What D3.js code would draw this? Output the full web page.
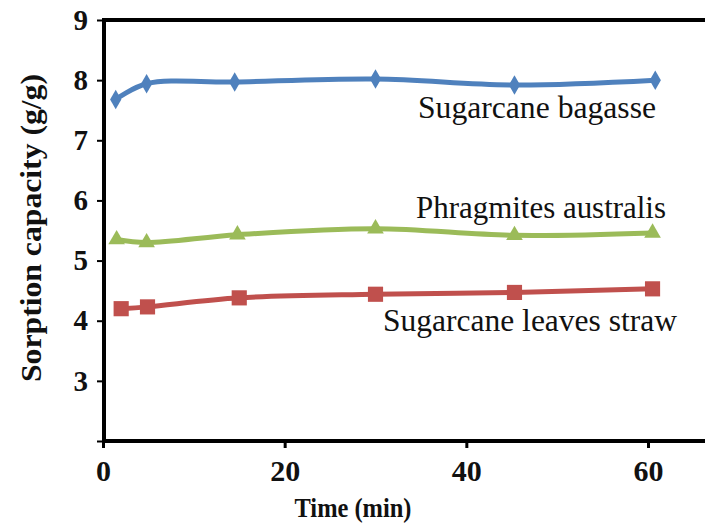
<!DOCTYPE html>
<html>
<head>
<meta charset="utf-8">
<script src="https://cdn.jsdelivr.net/npm/d3@7"></script>
<style>
  body { margin: 0; background: #fff; }
</style>
</head>
<body>
<div id="chart"></div>
<script>
// sorption capacity vs time
var xTicks = [0, 20, 40, 60];
var yTicks = [2, 3, 4, 5, 6, 7, 8, 9];

var bagasseTime = [1.4, 4.8, 14.5, 30, 45.3, 60.8];
var bagasse = [7.68, 7.94, 7.97, 8.02, 7.92, 8.0];

var phragTime = [1.5, 4.8, 14.8, 30, 45.3, 60.5];
var phrag = [5.35, 5.3, 5.43, 5.53, 5.42, 5.46];

var leavesTime = [2, 4.9, 15, 30, 45.3, 60.5];
var leaves = [4.2, 4.23, 4.38, 4.44, 4.47, 4.53];

var width = 705, height = 530;
var plotLeft = 104, plotTop = 20, plotBottom = 441;
var serif = "'Liberation Serif', 'Times New Roman', serif";

var svg = d3.select("#chart").append("svg")
  .attr("width", width)
  .attr("height", height);

var x = d3.scaleLinear().domain([0, 60]).range([103, 648]);
var y = d3.scaleLinear().domain([2, 9]).range([plotBottom, plotTop]);

// top frame line
svg.append("line")
  .attr("x1", plotLeft).attr("x2", width)
  .attr("y1", plotTop).attr("y2", plotTop)
  .attr("stroke", "#000").attr("stroke-width", 4);

// y axis
var yAxis = svg.append("g")
  .attr("transform", "translate(" + plotLeft + ",0)")
  .call(d3.axisLeft(y).tickValues(yTicks).tickSize(7).tickFormat(function(d) { return d === 2 ? "" : d; }));
yAxis.select(".domain").attr("stroke-width", 4).attr("d", "M0," + (plotTop - 2) + "V" + (plotBottom + 2));
yAxis.selectAll(".tick line").attr("stroke-width", 2);
yAxis.selectAll(".tick text")
  .attr("x", -16)
  .style("font-size", "29px").style("font-weight", "bold");

// x axis
var xAxis = svg.append("g")
  .attr("transform", "translate(0," + plotBottom + ")")
  .call(d3.axisBottom(x).tickValues(xTicks).tickSize(7));
xAxis.select(".domain").attr("stroke-width", 4).attr("d", "M" + (plotLeft - 2) + ",0H" + width);
xAxis.selectAll(".tick line").attr("stroke-width", 3);
xAxis.selectAll(".tick text")
  .attr("y", 19)
  .style("font-size", "30px").style("font-weight", "bold");

var line = d3.line()
  .x(function(d) { return x(d[0]); })
  .y(function(d) { return y(d[1]); })
  .curve(d3.curveCatmullRom.alpha(0.5));

var series = [
  { t: bagasseTime, v: bagasse, color: "#4f81bd", sym: d3.symbolDiamond, size: 110 },
  { t: phragTime, v: phrag, color: "#9bbb59", sym: d3.symbolTriangle, size: 120 },
  { t: leavesTime, v: leaves, color: "#c0504d", sym: d3.symbolSquare, size: 230 }
];

series.forEach(function(s) {
  var pts = s.t.map(function(t, i) { return [t, s.v[i]]; });
  svg.append("path")
    .datum(pts)
    .attr("fill", "none")
    .attr("stroke", s.color)
    .attr("stroke-width", 5)
    .attr("d", line);
  svg.selectAll(null)
    .data(pts)
    .enter().append("path")
    .attr("transform", function(d) { return "translate(" + x(d[0]) + "," + y(d[1]) + ")"; })
    .attr("d", d3.symbol().type(s.sym).size(s.size))
    .attr("fill", s.color);
});

// series labels
svg.append("text").attr("x", 418).attr("y", 118)
  .attr("textLength", 238).attr("lengthAdjust", "spacingAndGlyphs")
  .style("font-size", "31px").text("Sugarcane bagasse");
svg.append("text").attr("x", 416).attr("y", 218)
  .attr("textLength", 250).attr("lengthAdjust", "spacingAndGlyphs")
  .style("font-size", "31px").text("Phragmites australis");
svg.append("text").attr("x", 383).attr("y", 331)
  .attr("textLength", 294).attr("lengthAdjust", "spacingAndGlyphs")
  .style("font-size", "31px").text("Sugarcane leaves straw");

// axis titles
svg.append("text")
  .attr("x", 353).attr("y", 517)
  .attr("textLength", 117).attr("lengthAdjust", "spacingAndGlyphs")
  .style("text-anchor", "middle")
  .style("font-size", "27px").style("font-weight", "bold")
  .text("Time (min)");

svg.append("text")
  .attr("transform", "translate(41,228) rotate(-90)")
  .attr("textLength", 308).attr("lengthAdjust", "spacingAndGlyphs")
  .style("text-anchor", "middle")
  .style("font-size", "30px").style("font-weight", "bold")
  .text("Sorption capacity (g/g)");

svg.selectAll("text").style("font-family", serif).attr("fill", "#111");
</script>
</body>
</html>
